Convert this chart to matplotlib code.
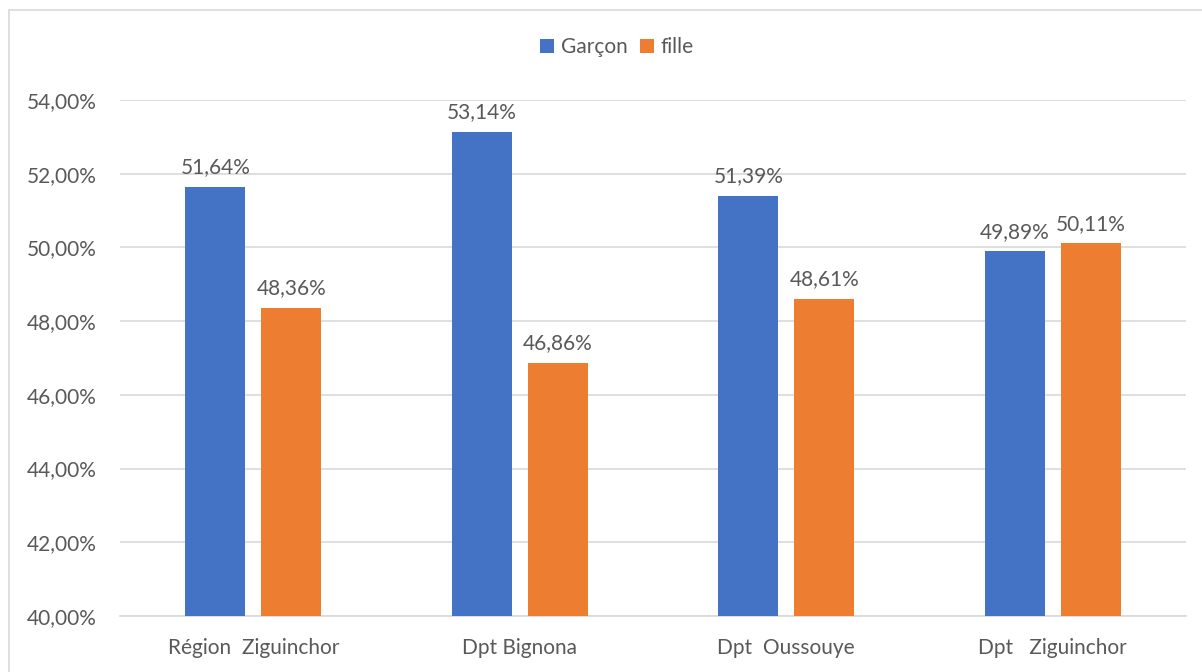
import matplotlib
matplotlib.use("Agg")
import matplotlib.pyplot as plt
import numpy as np
from matplotlib.patches import Rectangle

categories = ["Région  Ziguinchor", "Dpt Bignona", "Dpt  Oussouye", "Dpt   Ziguinchor"]
garcon = [51.64, 53.14, 51.39, 49.89]
fille = [48.36, 46.86, 48.61, 50.11]
series_names = ["Garçon", "fille"]
yticks = [40, 42, 44, 46, 48, 50, 52, 54]

plt.rcParams['font.family'] = ['Lato', 'DejaVu Sans']
TXT = '#595959'
BLUE = '#4472C4'
ORANGE = '#ED7D31'
FS = 15

W, H = 1202, 672
fig = plt.figure(figsize=(W / 100, H / 100), dpi=100)
fig.patch.set_facecolor('white')

# chart border
fig.patches.append(Rectangle((9 / W, -0.1), 1.2, 1 - 10 / H + 0.1, transform=fig.transFigure,
                             fill=False, edgecolor='#D9D9D9', linewidth=1.2))

ax = fig.add_axes([120 / W, 1 - 616 / H, (1186 - 120) / W, (616 - 100) / H])
x = np.arange(len(categories))
bw = 0.225
off = 0.1425
b1 = ax.bar(x - off, garcon, bw, color=BLUE, label=series_names[0], zorder=3)
b2 = ax.bar(x + off, fille, bw, color=ORANGE, label=series_names[1], zorder=3)

ax.set_ylim(40, 54)
ax.set_xlim(-0.5, len(categories) - 0.5)
ax.set_yticks(yticks)
ax.set_yticklabels([f"{v:.2f}%".replace('.', ',') for v in yticks], color=TXT, fontsize=FS)
ax.set_xticks(x)
ax.set_xticklabels(categories, color=TXT, fontsize=FS)
ax.tick_params(axis='both', length=0)
ax.tick_params(axis='y', pad=17)
ax.tick_params(axis='x', pad=16)
ax.grid(axis='y', color='#D9D9D9', linewidth=1.2, zorder=0)
for s in ['top', 'right', 'left']:
    ax.spines[s].set_visible(False)
ax.spines['bottom'].set_color('#D9D9D9')
ax.spines['bottom'].set_linewidth(1.2)

for bars, vals in [(b1, garcon), (b2, fille)]:
    for b, v in zip(bars, vals):
        ax.annotate(f"{v:.2f}%".replace('.', ','), (b.get_x() + b.get_width() / 2, v),
                    xytext=(0, 7), textcoords='offset points', ha='center', va='bottom',
                    color=TXT, fontsize=FS)

fig.legend(handles=[b1, b2], labels=series_names, loc='center', bbox_to_anchor=(617 / W, 1 - 47 / H),
           ncol=2, frameon=False, fontsize=FS, labelcolor=TXT, handlelength=0.65, handleheight=0.65,
           handletextpad=0.35, columnspacing=0.6)

fig.savefig("out.png", dpi=100)
